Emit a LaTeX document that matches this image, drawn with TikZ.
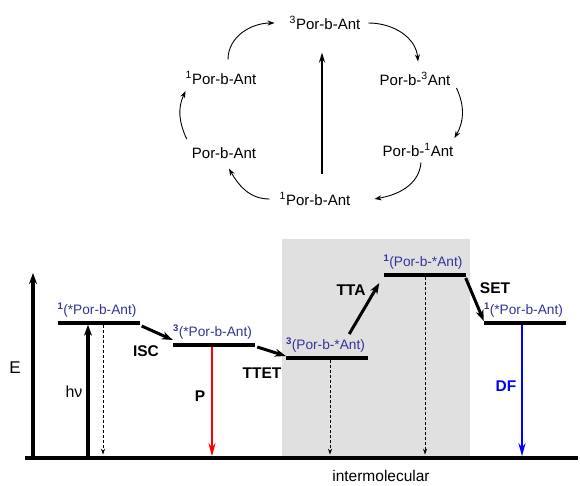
\documentclass[tikz,border=0pt]{standalone}
\usepackage{fontspec}
\setmainfont{Liberation Sans}
\usetikzlibrary{arrows.meta,positioning,calc}
\definecolor{labblue}{RGB}{51,51,153}
\definecolor{bggrey}{RGB}{224,224,224}

\begin{document}
\begin{tikzpicture}[x=1pt, y=-1pt,
    species/.style={inner sep=0pt, font=\fontsize{15}{18}\selectfont},
    cyc/.style={-{Stealth[length=7pt,width=5pt]}, line width=0.9pt},
    level/.style={fill=black, inner sep=0pt, minimum height=3.2pt, minimum width=82pt},
    state/.style={inner sep=0pt, text=labblue, font=\fontsize{13.7}{16}\selectfont},
    proc/.style={-{Stealth[length=11pt,width=8pt]}, line width=3pt},
    emit/.style={-{Stealth[length=13pt,width=7pt]}, line width=2.6pt},
    decay/.style={-{Stealth[length=6pt,width=4pt]}, densely dashed, line width=0.9pt, shorten >=1.5pt},
    tag/.style={font=\bfseries\fontsize{15.5}{18}\selectfont},
    plain/.style={font=\fontsize{16}{19}\selectfont}]

    \useasboundingbox (0,0) rectangle (580,485);

    % Cycle
    \node[species] (trip) at (325,23) {\textsuperscript{3}Por-b-Ant};
    \node[species] (ant3) at (415,79) {Por-b-\textsuperscript{3}Ant};
    \node[species] (ant1) at (418,150) {Por-b-\textsuperscript{1}Ant};
    \node[species] (sing) at (315,199) {\textsuperscript{1}Por-b-Ant};
    \node[species] (gnd) at (224,153) {Por-b-Ant};
    \node[species] (exc) at (221,78) {\textsuperscript{1}Por-b-Ant};

    \draw[cyc] ([xshift=7pt,yshift=12pt]exc.north) to[out=90,in=180] ([xshift=-15pt]trip.west);
    \draw[cyc] ([xshift=8pt]trip.east) to[out=0,in=95] ([xshift=3pt,yshift=11pt]ant3.north);
    \draw[cyc] ([xshift=6pt,yshift=-9pt]ant3.east) to[out=-65,in=60] ([xshift=1pt,yshift=12pt]ant1.east);
    \draw[cyc] ([xshift=3pt,yshift=-6pt]ant1.south) to[out=-95,in=10] ([xshift=24pt]sing.east);
    \draw[cyc] ([xshift=-10pt]sing.west) to[out=180,in=-60] ([xshift=5pt,yshift=-10pt]gnd.south);
    \draw[cyc] ([xshift=-5pt,yshift=14pt]gnd.west) to[out=115,in=-115] ([yshift=-13pt]exc.west);
    \draw[-{Stealth[length=10pt,width=6pt]}, line width=2pt] ([xshift=7pt,yshift=19pt]sing.north) -- ([xshift=-3pt,yshift=-23pt]trip.south);

    % Energy diagram
    \fill[bggrey] (282,239) rectangle (470,458);
    \node[level, minimum width=553pt] (base) at (301.5,458) {};

    \node[level] (s1) at (98.5,323) {};
    \node[level] (s2) at (214,345) {};
    \node[level] (s3) at (327,358) {};
    \node[level] (s4) at (424.5,275) {};
    \node[level] (s5) at (525,323) {};

    \node[state, above right=5pt and 0pt of s1.west] (s1lab) {\textsuperscript{\textbf{1}}(*Por-b-Ant)};
    \node[state, above right=5pt and 0pt of s2.west] (s2lab) {\textsuperscript{\textbf{3}}(*Por-b-Ant)};
    \node[state, above right=5pt and 0pt of s3.west] (s3lab) {\textsuperscript{\textbf{3}}(Por-b-*Ant)};
    \node[state, above right=5pt and 0pt of s4.west] (s4lab) {\textsuperscript{\textbf{1}}(Por-b-*Ant)};
    \node[state, above right=5pt and 0pt of s5.west] (s5lab) {\textsuperscript{\textbf{1}}(*Por-b-Ant)};

    % Axis
    \coordinate (etop) at (33,273);
    \draw[proc, line width=3.2pt] (etop |- base.south) -- (etop);
    \node[plain, font=\fontsize{17}{20}\selectfont] (elab) at (15,368) {E};

    % Vertical transitions
    \coordinate (hv) at (88,0);
    \coordinate (d1) at (103,0);
    \coordinate (ph) at (212,0);
    \coordinate (d3) at (330,0);
    \coordinate (d4) at (425,0);
    \coordinate (fl) at (522,0);
    \draw[proc, line width=3.3pt] (hv |- base.north) -- (hv |- s1.south);
    \draw[decay] (d1 |- s1.south) -- (d1 |- base.north);
    \draw[emit, red] (ph |- s2.south) -- (ph |- base.north);
    \draw[decay] (d3 |- s3.south) -- (d3 |- base.north);
    \draw[decay] (d4 |- s4.south) -- (d4 |- base.north);
    \draw[emit, blue] (fl |- s5.south) -- (fl |- base.north);

    % Steps between levels
    \draw[proc] ([xshift=2pt,yshift=-3pt]s1.east) -- ([yshift=5pt]s2.west);
    \draw[proc] ([xshift=2pt,yshift=-2pt]s2.east) -- ([yshift=2pt]s3.west);
    \draw[proc] ([xshift=-19pt,yshift=24pt]s3.east) -- ([xshift=-4pt,yshift=-8pt]s4.west);
    \draw[proc] ([yshift=-3pt]s4.east) -- ([yshift=2pt]s5.west);

    % Labels
    \node[plain] (hnu) at (74,392) {hν};
    \node[tag] (isc) at (146,351) {ISC};
    \node[tag] (ttet) at (262,373) {TTET};
    \node[tag] (tta) at (351,290) {TTA};
    \node[tag] (set) at (495,288) {SET};
    \node[tag] (plab) at (200,396) {P};
    \node[tag, text=blue] (dflab) at (506,386) {DF};
    \node[plain, font=\fontsize{15.5}{18}\selectfont] (inter) at (381,476) {intermolecular};

\end{tikzpicture}
\end{document}
